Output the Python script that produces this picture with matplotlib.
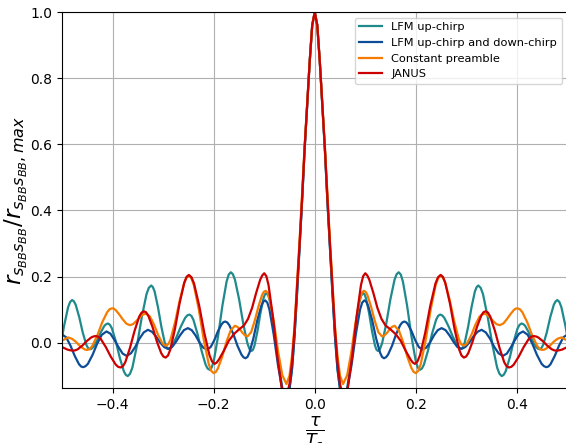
import numpy as np
import matplotlib
matplotlib.use("Agg")
import matplotlib.pyplot as plt

# ---- data (right half, tau >= 0; autocorrelation is symmetric) ----
labels = ["LFM up-chirp", "LFM up-chirp and down-chirp", "Constant preamble", "JANUS"]
colors = ["#1f8a8c", "#0d4c96", "#f57c00", "#cc0000"]

tau_teal = [0, 0.005, 0.01, 0.015, 0.02, 0.025, 0.03, 0.035, 0.04, 0.045, 0.05, 0.056,
            0.0639, 0.0719, 0.0798, 0.0877, 0.0917, 0.0957, 0.0986,
            0.1016, 0.1074, 0.1133, 0.1191, 0.1221, 0.125, 0.1291,
            0.1332, 0.1414, 0.1496, 0.1578, 0.1619, 0.166, 0.1702,
            0.1744, 0.1828, 0.1912, 0.1996, 0.2038, 0.208, 0.212,
            0.216, 0.224, 0.232, 0.240, 0.244, 0.248, 0.2522,
            0.2564, 0.2648, 0.2732, 0.2816, 0.2858, 0.290, 0.2934,
            0.2967, 0.3034, 0.3101, 0.3168, 0.3202, 0.3235, 0.3282,
            0.3328, 0.3421, 0.3514, 0.3607, 0.3654, 0.370, 0.3739,
            0.3778, 0.3856, 0.3934, 0.4012, 0.4051, 0.409, 0.4126,
            0.4162, 0.4234, 0.4306, 0.4378, 0.4414, 0.445, 0.4485,
            0.452, 0.459, 0.466, 0.473, 0.4765, 0.480, 0.484,
            0.488, 0.496, 0.500]
val_teal = [1.0, 0.96, 0.85, 0.72, 0.585, 0.43, 0.29, 0.15, 0.02, -0.08, -0.14, -0.17,
            -0.139, -0.060, 0.040, 0.119, 0.142, 0.150, 0.146,
            0.133, 0.090, 0.035, -0.008, -0.021, -0.025, -0.019,
            -0.002, 0.057, 0.131, 0.190, 0.207, 0.213, 0.206,
            0.185, 0.111, 0.020, -0.054, -0.075, -0.082, -0.078,
            -0.066, -0.024, 0.027, 0.069, 0.081, 0.085, 0.0825,
            0.075, 0.049, 0.018, -0.008, -0.0155, -0.018, -0.013,
            0.000, 0.048, 0.107, 0.155, 0.168, 0.173, 0.166,
            0.147, 0.078, -0.006, -0.075, -0.094, -0.101, -0.097,
            -0.086, -0.046, 0.003, 0.043, 0.054, 0.058, 0.056,
            0.051, 0.031, 0.007, -0.013, -0.018, -0.020, -0.016,
            -0.006, 0.031, 0.078, 0.115, 0.125, 0.129, 0.123,
            0.107, 0.050, 0.015]

tau_blue = [0, 0.005, 0.01, 0.015, 0.02, 0.025, 0.03, 0.035, 0.04, 0.045, 0.05, 0.056,
            0.0644, 0.0728, 0.0812, 0.0896, 0.0938, 0.098, 0.1019,
            0.1058, 0.1136, 0.1214, 0.1292, 0.1331, 0.137, 0.141,
            0.145, 0.153, 0.161, 0.169, 0.173, 0.177, 0.1806,
            0.1842, 0.1914, 0.1986, 0.2058, 0.213,
            0.2206, 0.2282, 0.2358, 0.2434, 0.251,
            0.2588, 0.2666, 0.2744, 0.2822, 0.290,
            0.298, 0.306, 0.314, 0.322, 0.330,
            0.3384, 0.3468, 0.3552, 0.3636, 0.372,
            0.380, 0.388, 0.396, 0.404, 0.412,
            0.4212, 0.4304, 0.4396, 0.4488, 0.4534, 0.458, 0.4622,
            0.4664, 0.4748, 0.4832, 0.4916, 0.500]
val_blue = [1.0, 0.96, 0.85, 0.72, 0.585, 0.43, 0.29, 0.15, 0.02, -0.08, -0.14, -0.17,
            -0.142, -0.067, 0.025, 0.100, 0.121, 0.128, 0.124,
            0.111, 0.068, 0.013, -0.030, -0.043, -0.047, -0.044,
            -0.036, -0.009, 0.026, 0.053, 0.061, 0.064, 0.062,
            0.056, 0.035, 0.008, -0.013, -0.021,
            -0.015, 0.001, 0.022, 0.038, 0.044,
            0.038, 0.022, 0.003, -0.013, -0.019,
            -0.013, 0.001, 0.019, 0.033, 0.039,
            0.031, 0.012, -0.013, -0.032, -0.040,
            -0.033, -0.014, 0.008, 0.027, 0.034,
            0.024, -0.003, -0.037, -0.064, -0.071, -0.074, -0.072,
            -0.065, -0.040, -0.009, 0.016, 0.025]

tau_orange = [0, 0.005, 0.01, 0.015, 0.02, 0.025, 0.03, 0.035, 0.04, 0.045, 0.05, 0.056,
              0.0642, 0.0724, 0.0806, 0.0888, 0.0929, 0.097, 0.1006,
              0.1042, 0.1114, 0.1186, 0.1258, 0.133,
              0.138, 0.143, 0.148, 0.153, 0.158,
              0.1664, 0.1748, 0.1832, 0.1916, 0.1958, 0.200, 0.2049,
              0.2098, 0.2196, 0.2294, 0.2392, 0.2441, 0.249, 0.2535,
              0.258, 0.267, 0.276, 0.285, 0.2895, 0.294, 0.298,
              0.302, 0.310, 0.318, 0.326, 0.334,
              0.3404, 0.3468, 0.3532, 0.3596, 0.366,
              0.373, 0.380, 0.387, 0.394, 0.3975, 0.401, 0.4059,
              0.4108, 0.4206, 0.4304, 0.4402, 0.4451, 0.450, 0.4538,
              0.4576, 0.4652, 0.4728, 0.4804, 0.488, 0.500]
val_orange = [1.0, 0.96, 0.85, 0.72, 0.595, 0.45, 0.31, 0.18, 0.05, -0.04, -0.10, -0.125,
              -0.098, -0.028, 0.060, 0.130, 0.150, 0.157, 0.154,
              0.144, 0.109, 0.067, 0.032, 0.019,
              0.022, 0.030, 0.040, 0.048, 0.051,
              0.037, 0.002, -0.043, -0.078, -0.0885, -0.092, -0.085,
              -0.064, 0.009, 0.101, 0.174, 0.195, 0.202, 0.197,
              0.182, 0.129, 0.064, 0.011, -0.004, -0.009, -0.007,
              0.000, 0.024, 0.055, 0.079, 0.088,
              0.085, 0.076, 0.065, 0.056, 0.053,
              0.058, 0.071, 0.086, 0.099, 0.103, 0.104, 0.101,
              0.092, 0.061, 0.021, -0.010, -0.019, -0.022, -0.021,
              -0.018, -0.009, 0.003, 0.012, 0.016, 0.006]

tau_red = [0, 0.005, 0.01, 0.015, 0.02, 0.025, 0.03, 0.035, 0.04, 0.045, 0.05, 0.057,
           0.0656, 0.0742, 0.0828, 0.0914, 0.0957, 0.100, 0.104,
           0.108, 0.116, 0.124, 0.132, 0.140, 0.150, 0.160, 0.170, 0.180, 0.190, 0.194, 0.198, 0.2031,
           0.2082, 0.2184, 0.2286, 0.2388, 0.2439, 0.249, 0.2536,
           0.2582, 0.2674, 0.2766, 0.2858, 0.2904, 0.295, 0.2993,
           0.3036, 0.3122, 0.3208, 0.3294, 0.3337, 0.338, 0.3426,
           0.3472, 0.3564, 0.3656, 0.3748, 0.3794, 0.384, 0.3889,
           0.3938, 0.4036, 0.4134, 0.4232, 0.4281, 0.433, 0.4375,
           0.442, 0.451, 0.460, 0.469, 0.4735, 0.478, 0.4835,
           0.489, 0.500]
val_red = [1.0, 0.96, 0.85, 0.72, 0.59, 0.44, 0.30, 0.17, 0.04, -0.06, -0.125, -0.17,
           -0.134, -0.039, 0.079, 0.174, 0.201, 0.21, 0.203,
           0.19, 0.15, 0.105, 0.072, 0.052, 0.040, 0.026, 0.006, -0.025, -0.052, -0.060, -0.064, -0.057,
           -0.038, 0.029, 0.112, 0.179, 0.198, 0.205, 0.199,
           0.181, 0.119, 0.041, -0.021, -0.039, -0.045, -0.042,
           -0.032, 0.003, 0.047, 0.082, 0.092, 0.095, 0.091,
           0.079, 0.036, -0.016, -0.059, -0.071, -0.075, -0.073,
           -0.066, -0.042, -0.013, 0.011, 0.018, 0.020, 0.019,
           0.016, 0.005, -0.009, -0.020, -0.023, -0.024, -0.023,
           -0.021, -0.013]

x_ticks = [-0.4, -0.2, 0.0, 0.2, 0.4]
y_ticks = [0.0, 0.2, 0.4, 0.6, 0.8, 1.0]

series = [(tau_teal, val_teal), (tau_blue, val_blue),
          (tau_orange, val_orange), (tau_red, val_red)]


def full(t, v):
    t = np.asarray(t, float)
    v = np.asarray(v, float)
    return np.concatenate([-t[:0:-1], t]), np.concatenate([v[:0:-1], v])


fig = plt.figure(figsize=(5.66, 4.43), dpi=100)
ax = fig.add_axes([62 / 566, 55 / 443, 505.5 / 566, 376 / 443])

for (t, v), lab, col in zip(series, labels, colors):
    tf, vf = full(t, v)
    ax.plot(tf, vf, color=col, lw=1.6, label=lab, solid_joinstyle="round")

ax.set_xlim(-0.5, 0.5)
ax.set_ylim(-0.137, 1.0)
ax.set_xticks(x_ticks)
ax.set_yticks(y_ticks)
ax.tick_params(labelsize=10)
ax.grid(True, color="#b0b0b0", lw=0.8)
ax.set_ylabel(r"$r_{s_{BB}s_{BB}}/r_{s_{BB}s_{BB},max}$", fontsize=16.5, labelpad=0.5)
ax.set_xlabel(r"$\frac{\tau}{T_s}$", fontsize=18, labelpad=2)
ax.legend(loc="upper right", fontsize=8.2)

fig.savefig("out.png", dpi=100)
